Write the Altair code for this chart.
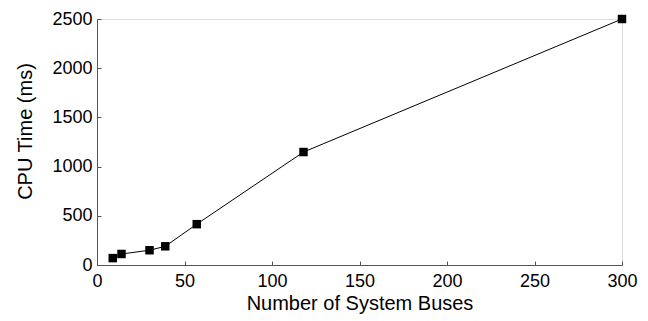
import altair as alt
import pandas as pd

buses = [9, 14, 30, 39, 57, 118, 300]
cpu_ms = [70, 112, 150, 190, 415, 1148, 2500]
x_ticks = [0, 50, 100, 150, 200, 250, 300]
y_ticks = [0, 500, 1000, 1500, 2000, 2500]

df = pd.DataFrame({"buses": buses, "cpu": cpu_ms})

FONT = "Liberation Sans"
W, H = 525, 246

xs = alt.Scale(domain=[0, 300], nice=False, zero=False)
ys = alt.Scale(domain=[0, 2500], nice=False, zero=False)

base = alt.Chart(df)

line = base.mark_line(color="black", strokeWidth=1).encode(
    x=alt.X("buses:Q", scale=xs,
            axis=alt.Axis(values=x_ticks, title="Number of System Buses", grid=False,
                          ticks=False, labelPadding=7, domainColor="#555555",
                          format="d",
                          labelFont=FONT, labelFontSize=18, labelColor="black",
                          titleFont=FONT, titleFontSize=20, titleFontWeight="normal",
                          titleColor="black", titlePadding=3, labelFlush=False)),
    y=alt.Y("cpu:Q", scale=ys,
            axis=alt.Axis(values=y_ticks, title="CPU Time (ms)", grid=False,
                          ticks=False, labelPadding=5, domainColor="#555555",
                          format="d", titleY=112,
                          labelFont=FONT, labelFontSize=18, labelColor="black",
                          titleFont=FONT, titleFontSize=20, titleFontWeight="normal",
                          titleColor="black", titlePadding=16, labelFlush=False)),
)

pts = base.mark_square(color="black", opacity=1, size=72).encode(
    x=alt.X("buses:Q", scale=xs, axis=None),
    y=alt.Y("cpu:Q", scale=ys, axis=None),
)

ticks_layer = base.mark_point(opacity=0).encode(
    x=alt.X("buses:Q", scale=xs,
            axis=alt.Axis(orient="top", offset=-H, values=x_ticks, labels=False,
                          domain=False, grid=False, title=None, tickSize=4,
                          tickColor="#555555")),
    y=alt.Y("cpu:Q", scale=ys,
            axis=alt.Axis(orient="right", offset=-W, values=y_ticks, labels=False,
                          domain=False, grid=False, title=None, tickSize=4,
                          tickColor="#555555")),
)

chart = alt.layer(line, pts, ticks_layer).resolve_axis(
    x="independent", y="independent"
).properties(
    width=W, height=H,
    autosize=alt.AutoSizeParams(type="none"),
    padding={"left": 89, "top": 11, "right": 18, "bottom": 54},
).configure_view(stroke=None).configure(background="white")

chart.save("out.html", embed_options={"renderer": "svg", "actions": False})
